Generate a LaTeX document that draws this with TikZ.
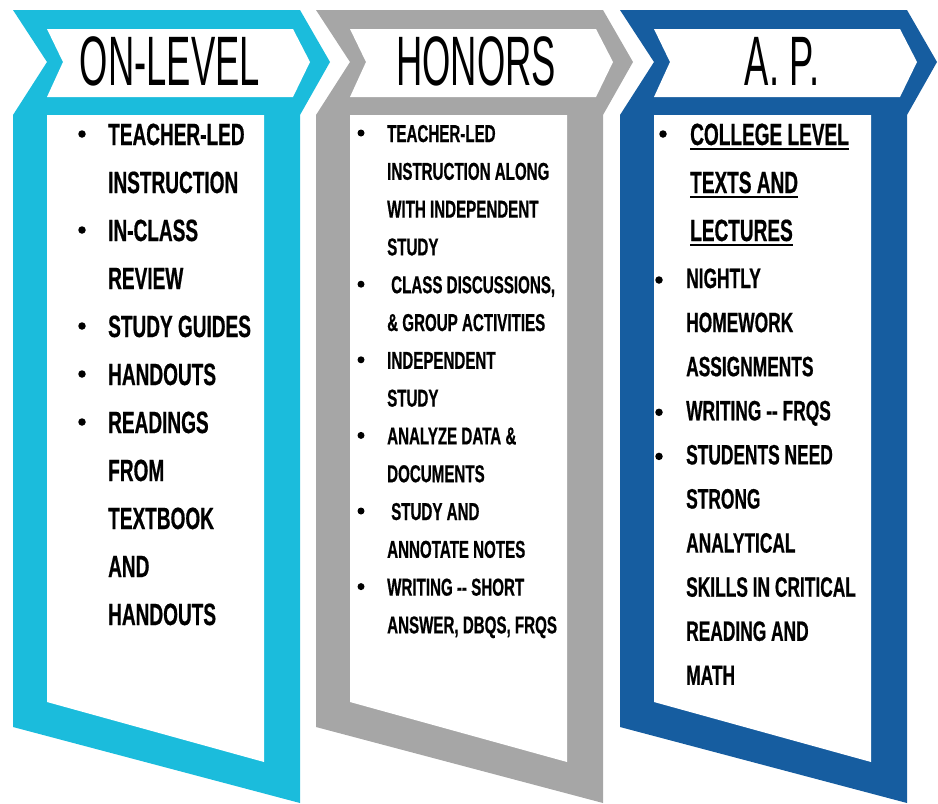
\documentclass[tikz,border=0pt]{standalone}
\usepackage{fontspec}
\usepackage{tikz}
\newfontfamily\headfont[FakeStretch=0.52]{Liberation Sans}
\newfontfamily\itemfont[FakeStretch=0.62,BoldFeatures={FakeBold=0.6}]{Liberation Sans}
\definecolor{levelcyan}{RGB}{27,188,220}
\definecolor{honorgray}{RGB}{166,166,166}
\definecolor{apblue}{RGB}{22,93,160}
\tikzset{
  headtxt/.style={font=\headfont\fontsize{70}{70}\selectfont, anchor=base, inner sep=0pt},
  bigitem/.style={font=\itemfont\bfseries\fontsize{30.7}{36}\selectfont, anchor=base west, inner sep=0pt},
  smallitem/.style={font=\itemfont\bfseries\fontsize{24.4}{30}\selectfont, anchor=base west, inner sep=0pt},
  apitem/.style={font=\itemfont\bfseries\fontsize{28}{34}\selectfont, anchor=base west, inner sep=0pt},
  dot/.style={circle, fill=black, inner sep=0pt, minimum size=7.5pt},
  uline/.style={line width=2pt}
}

\begin{document}
\begin{tikzpicture}[x=1pt,y=-1pt]
  \useasboundingbox (0,0) rectangle (938,804);
  % the three banners
  \foreach \x/\col in {13/levelcyan,316/honorgray,620/apblue}{
    \begin{scope}[xshift=\x pt]
      \fill[\col] (0,10) -- (287,10) -- (317,62) -- (287,115) -- (287,803)
        -- (0,727) -- (0,115) -- (34,62) -- cycle;
      \fill[white] (34,29) -- (280,29) -- (297,62) -- (280,97) -- (34,97)
        -- (50,62) -- cycle;
      \fill[white] (34,115) -- (251,115) -- (251,762) -- (34,702) -- cycle;
    \end{scope}
  }
  % titles
  \node[headtxt] (onlevel) at (170,85) {ON-LEVEL};
  \node[headtxt] (honors) at (476,85) {HONORS};
  \node[headtxt] (ap) at (782,85) {A. P.};
  % on-level list
  \foreach \txt [count=\i] in {TEACHER-LED, INSTRUCTION, IN-CLASS, REVIEW,
      STUDY GUIDES, HANDOUTS, READINGS, FROM, TEXTBOOK, AND, HANDOUTS}
    \node[bigitem] (on\i) at (108,{145+48*(\i-1)}) {\txt};
  \foreach \i in {1,3,5,6,7}
    \node[dot] (ondot\i) at (82,{134+48*(\i-1)}) {};
  % honors list
  \foreach \txt [count=\i] in {TEACHER-LED, INSTRUCTION ALONG, WITH INDEPENDENT,
      STUDY, {\hspace*{4pt}CLASS DISCUSSIONS,}, \& GROUP ACTIVITIES, INDEPENDENT,
      STUDY, ANALYZE DATA \&, DOCUMENTS, \hspace*{4pt}STUDY AND, ANNOTATE NOTES,
      WRITING {-}{-} SHORT, {ANSWER, DBQS, FRQS}}
    \node[smallitem] (hon\i) at (387,{142+37.8*(\i-1)}) {\txt};
  \foreach \i in {1,5,7,9,11,13}
    \node[dot, minimum size=7pt] (hondot\i) at (361,{133+37.8*(\i-1)}) {};
  % a.p. list
  \foreach \txt [count=\i] in {COLLEGE LEVEL, TEXTS AND, LECTURES}{
    \node[bigitem] (apu\i) at (690,{145+48*(\i-1)}) {\txt};
    \draw[uline] ([yshift=-3.5pt]apu\i.base west) -- ([yshift=-3.5pt]apu\i.base east);
  }
  \foreach \txt [count=\i] in {NIGHTLY, HOMEWORK, ASSIGNMENTS, WRITING {-}{-} FRQS,
      STUDENTS NEED, STRONG, ANALYTICAL, SKILLS IN CRITICAL, READING AND, MATH}
    \node[apitem] (ap\i) at (686,{288+44.1*(\i-1)}) {\txt};
  \node[dot] (apdot0) at (663,134) {};
  \foreach \i in {1,4,5}
    \node[dot] (apdot\i) at (659,{280+44.1*(\i-1)}) {};
\end{tikzpicture}
\end{document}
